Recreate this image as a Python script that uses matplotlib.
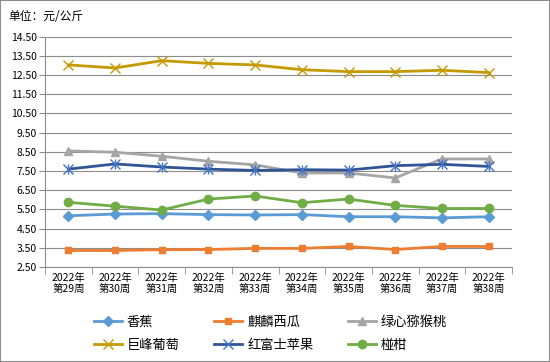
import numpy as np
import matplotlib
matplotlib.use('Agg')
from matplotlib import pyplot as plt

plt.rcParams['font.family'] = ['Noto Sans CJK SC', 'DejaVu Sans']

#
#   Data
#
weeks = ['2022年\n第{}周'.format(w) for w in range(29, 39)]
banana = [5.17, 5.26, 5.28, 5.23, 5.21, 5.23, 5.12, 5.12, 5.06, 5.12]
watermelon = [3.36, 3.36, 3.40, 3.41, 3.47, 3.47, 3.57, 3.41, 3.57, 3.57]
kiwi = [8.55, 8.48, 8.27, 8.01, 7.82, 7.40, 7.40, 7.14, 8.13, 8.13]
grape = [13.03, 12.87, 13.25, 13.11, 13.03, 12.78, 12.68, 12.68, 12.75, 12.63]
apple = [7.60, 7.87, 7.71, 7.60, 7.53, 7.57, 7.55, 7.78, 7.85, 7.74]
orange = [5.87, 5.67, 5.47, 6.04, 6.20, 5.85, 6.04, 5.71, 5.55, 5.55]
y_ticks = [2.5, 3.5, 4.5, 5.5, 6.5, 7.5, 8.5, 9.5, 10.5, 11.5, 12.5, 13.5, 14.5]

series = [
    ('香蕉', banana, '#5B9BD5', 'D', 5),
    ('麒麟西瓜', watermelon, '#ED7D31', 's', 5),
    ('绿心猕猴桃', kiwi, '#A5A5A5', '^', 6),
    ('巨峰葡萄', grape, '#C49A00', 'x', 7),
    ('红富士苹果', apple, '#2F5597', 'x', 7),
    ('椪柑', orange, '#70AD47', 'o', 6),
]

fig = plt.figure(figsize=(5.5, 3.62), dpi=100)
fig.patches.append(plt.Rectangle((0, 0), 1, 1, transform=fig.transFigure,
                                 fill=False, edgecolor='#8C8C8C', lw=1.5))
ax = fig.add_axes([45 / 550, 1 - 267 / 362, 467 / 550, (267 - 36.7) / 362])

x = np.arange(len(weeks))
lines = {}
for name, vals, color, marker, ms in series:
    if name == '红富士苹果':
        # asterisk marker: x plus a vertical stroke
        ln, = ax.plot(x, vals, color=color, lw=2, marker='x', ms=ms,
                      mew=1, mec='#4472C4', label=name, zorder=3)
        ax.plot(x, vals, ls='none', marker='|', ms=ms, mew=1,
                mec='#4472C4', zorder=3)
    elif name == '巨峰葡萄':
        ln, = ax.plot(x, vals, color=color, lw=2, marker=marker, ms=ms,
                      mew=1, label=name, zorder=3)
    else:
        ln, = ax.plot(x, vals, color=color, lw=2, marker=marker, ms=ms,
                      mec=color, label=name, zorder=3)
    lines[name] = ln

ax.set_xlim(-0.5, len(weeks) - 0.5)
ax.set_ylim(2.5, 14.5)
ax.set_yticks(y_ticks)
ax.set_yticklabels(['{:.2f}'.format(v) for v in y_ticks], fontsize=7.5)
ax.set_xticks(x)
ax.set_xticklabels(weeks, fontsize=7.5, linespacing=1.1)
ax.set_xticks(np.arange(-0.5, len(weeks)), minor=True)
ax.tick_params(axis='x', which='major', length=0, pad=4)
ax.tick_params(axis='x', which='minor', length=5, color='#8C8C8C')
ax.tick_params(axis='y', length=4, color='#8C8C8C', pad=2)
ax.grid(axis='y', color='#8C8C8C', lw=0.8)
ax.set_axisbelow(True)
for side in ['top', 'right']:
    ax.spines[side].set_visible(False)
ax.spines['left'].set_color('#8C8C8C')
ax.spines['bottom'].set_color('#8C8C8C')

fig.text(8 / 550, 1 - 16 / 362, '单位：元/公斤', fontsize=8.5, va='center')

order = ['香蕉', '巨峰葡萄', '麒麟西瓜', '红富士苹果', '绿心猕猴桃', '椪柑']
fig.legend([lines[n] for n in order], order, ncol=3, frameon=False,
           loc='center left', bbox_to_anchor=(94 / 550, 1 - 334 / 362),
           fontsize=9.5, columnspacing=2.6, handlelength=2.1,
           handletextpad=0.4, labelspacing=0.75, borderaxespad=0,
           borderpad=0)

fig.savefig('out.png', dpi=100)
